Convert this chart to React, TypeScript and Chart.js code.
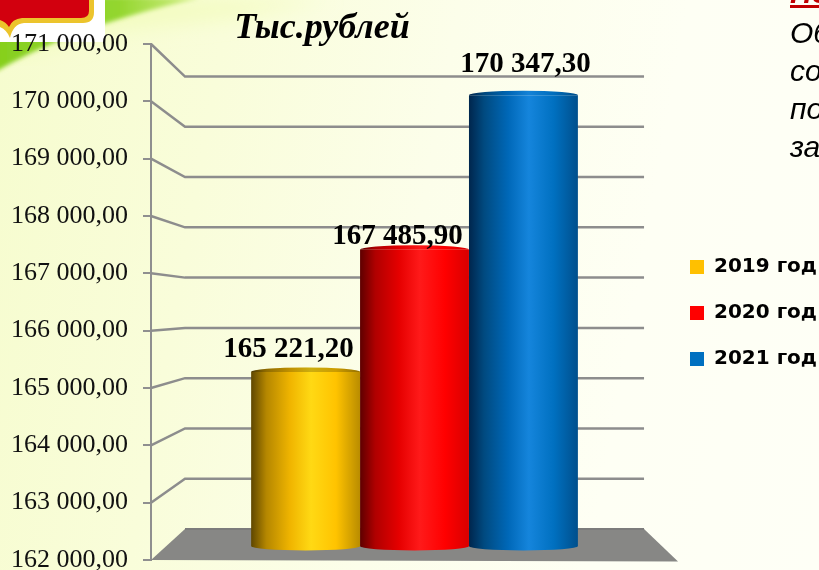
import React, { useEffect, useRef } from "react";
import { Chart, registerables } from "chart.js";

Chart.register(...registerables);

const categories = ["Тыс.рублей"];
const seriesNames = ["2019 год", "2020 год", "2021 год"];
const values2019 = [165221.2];
const values2020 = [167485.9];
const values2021 = [170347.3];
const legendColors = ["#FFC000", "#FF0000", "#0070C0"];
const yMin = 162000;
const yMax = 171000;

const valueLabelOffsetX = [-17, -17, 2];
const valueLabelOffsetY = [-22, -13, -31];

const gradientStops = [
  ["#5f4700", "#b58700", "#f0b500", "#ffd914", "#ffc300", "#b98c00"],
  ["#5e0000", "#b00000", "#e60000", "#ff1a1a", "#ff0000", "#d80000"],
  ["#00264d", "#004a80", "#0068b8", "#1585dc", "#0070c0", "#004f8c"],
];
const stopPositions = [0, 0.14, 0.36, 0.55, 0.78, 1];
const capShade = [0.2, 0.02, 0.02];

const groupKm = (n: number) => {
  const whole = Math.floor(n);
  const thousands = Math.floor(whole / 1000);
  const rest = String(whole % 1000).padStart(3, "0");
  const frac = Math.round((n - whole) * 100);
  return `${thousands} ${rest},${String(frac).padStart(2, "0")}`;
};

const makeGradient = (ctx: CanvasRenderingContext2D, x0: number, x1: number, i: number) => {
  const g = ctx.createLinearGradient(x0, 0, x1, 0);
  gradientStops[i].forEach((c, k) => g.addColorStop(stopPositions[k], c));
  return g;
};

const scene = {
  id: "scene",
  beforeDatasetsDraw(chart: any) {
    const { ctx, chartArea, scales } = chart;
    const depthX = 34;
    const backLeft = chartArea.left + depthX;
    const backRight = chartArea.right - depthX;
    const yF = scales.y;
    const yB = scales.yBack;
    ctx.save();
    ctx.fillStyle = "#878785";
    ctx.beginPath();
    ctx.moveTo(chartArea.left, yF.getPixelForValue(yMin));
    ctx.lineTo(backLeft, yB.getPixelForValue(yMin));
    ctx.lineTo(backRight, yB.getPixelForValue(yMin));
    ctx.lineTo(chartArea.right, yF.getPixelForValue(yMin) + 1.5);
    ctx.closePath();
    ctx.fill();
    ctx.strokeStyle = "#7c7c7c";
    ctx.lineWidth = 2;
    ctx.beginPath();
    ctx.moveTo(backLeft, yB.getPixelForValue(yMin));
    ctx.lineTo(backRight, yB.getPixelForValue(yMin));
    ctx.stroke();
    ctx.strokeStyle = "#8d8d8d";
    ctx.lineWidth = 2.5;
    yF.ticks.forEach((t: any) => {
      if (t.value === yMin) return;
      ctx.beginPath();
      ctx.moveTo(chartArea.left, yF.getPixelForValue(t.value));
      ctx.lineTo(backLeft, yB.getPixelForValue(t.value));
      ctx.lineTo(backRight, yB.getPixelForValue(t.value));
      ctx.stroke();
    });
    ctx.restore();
  },
  afterDatasetDraw(chart: any, args: any) {
    const { ctx } = chart;
    const i = args.index;
    const bar = chart.getDatasetMeta(i).data[0];
    const half = bar.width / 2;
    const ry = 4.5;
    const g = makeGradient(ctx, bar.x - half, bar.x + half, i);
    ctx.save();
    ctx.fillStyle = g;
    ctx.beginPath();
    ctx.ellipse(bar.x, bar.base, half, ry, 0, 0, Math.PI);
    ctx.closePath();
    ctx.fill();
    ctx.beginPath();
    ctx.ellipse(bar.x, bar.y, half, ry, 0, Math.PI, Math.PI * 2);
    ctx.closePath();
    ctx.fill();
    ctx.fillStyle = `rgba(0,0,0,${capShade[i]})`;
    ctx.fill();
    ctx.restore();
  },
  afterDatasetsDraw(chart: any) {
    const { ctx } = chart;
    ctx.save();
    ctx.fillStyle = "#000";
    ctx.textAlign = "center";
    ctx.textBaseline = "middle";
    ctx.font = "bold 29px 'Liberation Serif'";
    chart.data.datasets.forEach((ds: any, i: number) => {
      const bar = chart.getDatasetMeta(i).data[0];
      ctx.fillText(groupKm(ds.data[0]), bar.x + valueLabelOffsetX[i], bar.y + valueLabelOffsetY[i]);
    });
    ctx.font = "italic bold 36px 'Liberation Serif'";
    ctx.fillText(categories[0], 322, 29);
    ctx.restore();
  },
  beforeDraw(chart: any) {
    const l = chart.legend;
    const shift = 313 - (l.top + l.bottom) / 2;
    l.top += shift;
    l.bottom += shift;
    l.left = 664;
  },
};

const pageBg =
  "linear-gradient(100deg, #f6fcce 0%, #f9fdda 25%, #fcfeea 50%, #feffF4 75%, #feffF6 100%)";

export default function App() {
  const ref = useRef<HTMLCanvasElement>(null);
  useEffect(() => {
    const bg = (i: number) => (c: any) => {
      const area = c.chart.chartArea;
      if (!area) return legendColors[i];
      const total = area.right - area.left;
      const barW = (total * 0.62) / 3;
      const x0 = area.left + total * 0.19 + barW * i;
      return makeGradient(c.chart.ctx, x0, x0 + barW, i);
    };
    const mk = (label: string, data: number[], i: number) => ({
      label,
      data,
      yAxisID: "yMid",
      base: yMin,
      backgroundColor: bg(i),
      borderWidth: 0,
      categoryPercentage: 0.62,
      barPercentage: 1,
    });
    const chart = new Chart(ref.current as HTMLCanvasElement, {
      type: "bar",
      data: {
        labels: categories,
        datasets: [
          mk(seriesNames[0], values2019, 0),
          mk(seriesNames[1], values2020, 1),
          mk(seriesNames[2], values2021, 2),
        ],
      },
      plugins: [scene],
      options: {
        animation: false,
        responsive: false,
        layout: { padding: { top: 44, bottom: 10, left: 0, right: -22 } },
        plugins: {
          tooltip: { enabled: false },
          title: { display: false },
          legend: {
            display: true,
            position: "right",
            labels: {
              boxWidth: 14,
              boxHeight: 14,
              padding: 26,
              color: "#000",
              font: { family: "'DejaVu Sans'", size: 20, weight: "bold" },
              generateLabels: () =>
                seriesNames.map((text, i) => ({
                  text,
                  fillStyle: legendColors[i],
                  strokeStyle: legendColors[i],
                  lineWidth: 0,
                  datasetIndex: i,
                  hidden: false,
                })),
            },
          },
        },
        scales: {
          x: { display: false, grid: { display: false } },
          y: {
            position: "left",
            min: yMin,
            max: yMax,
            afterFit: (s: any) => {
              s.width = 151;
              s.paddingTop = 0;
              s.paddingBottom = 0;
            },
            border: { display: true, color: "#8f8f8f", width: 2 },
            grid: {
              drawOnChartArea: false,
              drawTicks: true,
              tickLength: 8,
              color: "#8f8f8f",
              lineWidth: 2,
            },
            ticks: {
              stepSize: 1000,
              padding: 15,
              color: "#111",
              autoSkip: false,
              font: { family: "'Liberation Serif'", size: 26 },
              callback: (v: any) => groupKm(Number(v)),
            },
          },
          yMid: { display: false, min: 161740, max: 171295 },
          yBack: { display: false, min: 161382, max: 171648 },
        },
      },
    } as any);
    return () => chart.destroy();
  }, []);

  const sideLines = ["Об", "со", "по", "за"];
  return (
    <div
      style={{
        position: "fixed",
        left: 0,
        top: 0,
        width: 819,
        height: 570,
        overflow: "hidden",
        background: pageBg,
      }}
    >
      <svg width={819} height={570} style={{ position: "absolute", left: 0, top: 0 }}>
        <defs>
          <filter id="soft">
            <feGaussianBlur stdDeviation="2" />
          </filter>
          <filter id="softer">
            <feGaussianBlur stdDeviation="10" />
          </filter>
          <linearGradient id="swoosh" x1="0" y1="0" x2="1" y2="0">
            <stop offset="0" stopColor="#86cf1e" />
            <stop offset="0.6" stopColor="#93d62e" />
            <stop offset="1" stopColor="#d5f08a" />
          </linearGradient>
        </defs>
        <path d="M0 0 H330 L240 16 L120 30 L0 60 Z" fill="#f3fcc0" filter="url(#softer)" />
        <path
          d="M-5 72 C40 46 100 20 200 -2 L-5 -5 Z"
          fill="url(#swoosh)"
          filter="url(#soft)"
        />
        <rect x="0" y="0" width="105" height="42" fill="#ffffff" />
        <path
          d="M0 0 H94 V12 Q94 23 83 23 H24 Q13 24 10 38 Q7 30 0 27 Z"
          fill="#ecc42c"
        />
        <path
          d="M0 0 H89 V11 Q89 18 81 18 H22 Q12 19 9 27 Q6 22 0 20 Z"
          fill="#d2000e"
        />
      </svg>
      <canvas
        ref={ref}
        width={819}
        height={570}
        style={{ position: "absolute", left: 0, top: 0, display: "block" }}
      />
      <div
        style={{
          position: "absolute",
          left: 790,
          top: -26,
          font: "italic bold 30px 'Liberation Sans'",
          color: "#c00000",
          textDecoration: "underline",
          lineHeight: "38px",
          whiteSpace: "nowrap",
        }}
      >
        По
      </div>
      {sideLines.map((t, i) => (
        <div
          key={t}
          style={{
            position: "absolute",
            left: 790,
            top: 14 + i * 38,
            font: "italic 30px 'Liberation Sans'",
            color: "#000",
            lineHeight: "38px",
            whiteSpace: "nowrap",
          }}
        >
          {t}
        </div>
      ))}
    </div>
  );
}
